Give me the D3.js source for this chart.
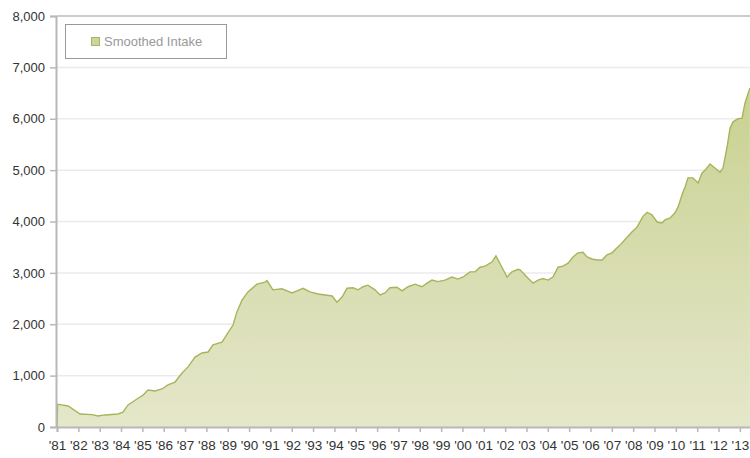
<!DOCTYPE html>
<html><head><meta charset="utf-8">
<script src="https://cdn.jsdelivr.net/npm/d3@7/dist/d3.min.js"></script>
<style>body{margin:0;background:#fff}svg{display:block}text{font-family:"Liberation Sans",Arial,sans-serif}</style>
</head><body><svg id="c" width="750" height="458"></svg>
<script>
const years = [1981.00,1981.03,1981.09,1981.52,1982.08,1982.64,1982.92,1983.25,1983.86,1984.09,1984.33,1984.80,1985.03,1985.26,1985.59,1985.92,1986.20,1986.53,1986.86,1987.14,1987.47,1987.79,1988.08,1988.31,1988.73,1989.01,1989.25,1989.43,1989.67,1989.95,1990.37,1990.75,1990.84,1991.12,1991.54,1991.78,1992.01,1992.25,1992.53,1992.86,1993.23,1993.89,1994.12,1994.36,1994.59,1994.87,1995.11,1995.34,1995.57,1995.90,1996.14,1996.37,1996.60,1996.93,1997.17,1997.45,1997.78,1998.10,1998.34,1998.57,1998.85,1999.18,1999.51,1999.79,2000.03,2000.35,2000.59,2000.82,2001.06,2001.38,2001.57,2001.85,2002.09,2002.32,2002.60,2002.70,2003.02,2003.31,2003.54,2003.77,2004.01,2004.24,2004.48,2004.71,2004.95,2005.18,2005.41,2005.65,2005.84,2006.07,2006.30,2006.54,2006.77,2007.01,2007.15,2007.38,2007.62,2007.95,2008.18,2008.46,2008.65,2008.88,2009.12,2009.35,2009.49,2009.73,2009.96,2010.10,2010.29,2010.43,2010.57,2010.80,2011.04,2011.22,2011.37,2011.60,2011.83,2012.07,2012.21,2012.40,2012.54,2012.68,2012.91,2013.10,2013.24,2013.47];
const intake = [0,440,440,410,253,240,215,235,253,290,430,560,620,720,700,740,820,875,1050,1170,1360,1440,1460,1600,1650,1830,1985,2240,2470,2630,2780,2820,2850,2670,2690,2650,2610,2650,2700,2630,2590,2550,2430,2530,2700,2710,2670,2730,2760,2670,2570,2610,2710,2720,2650,2730,2780,2730,2800,2860,2830,2860,2920,2880,2920,3020,3020,3110,3130,3210,3330,3110,2920,3020,3070,3060,2920,2800,2860,2890,2860,2920,3110,3130,3190,3310,3390,3400,3310,3270,3250,3250,3350,3390,3450,3540,3650,3800,3890,4100,4180,4130,3990,3970,4030,4070,4170,4280,4520,4670,4850,4850,4750,4940,5000,5120,5040,4960,5040,5450,5820,5940,6000,6010,6310,6600];
const yTicks = [0,1000,2000,3000,4000,5000,6000,7000,8000];
const xTickYears = d3.range(1981, 2014);
const xTickLabels = xTickYears.map(y => "'" + String(y % 100).padStart(2, "0"));
const seriesName = "Smoothed Intake";

const svg = d3.select("#c");
const x = d3.scaleLinear().domain([1981, 2014]).range([57, 57 + 33 * 21.34]);
const y = d3.scaleLinear().domain([0, 8000]).range([427, 16]);

const defs = svg.append("defs");
const g = defs.append("linearGradient").attr("id","fillg").attr("x1",0).attr("y1",0).attr("x2",0).attr("y2",1)
  .attr("gradientUnits","userSpaceOnUse").attr("x1",0).attr("y1",y(6600)).attr("x2",0).attr("y2",y(0));
g.append("stop").attr("offset","0").attr("stop-color","#c9d18f");
g.append("stop").attr("offset","0.45").attr("stop-color","#d6dbac");
g.append("stop").attr("offset","1").attr("stop-color","#e5e7ca");

// gridlines
svg.append("g").selectAll("line").data(yTicks.filter(d => d > 0 && d < 8000)).join("line")
  .attr("x1", 57).attr("x2", 750).attr("y1", d => y(d)).attr("y2", d => y(d))
  .attr("stroke", "#ebebeb").attr("stroke-width", 1.5);
// top border
svg.append("line").attr("x1",57).attr("x2",750).attr("y1",y(8000)).attr("y2",y(8000))
  .attr("stroke","#cccccc").attr("stroke-width",2);

const data = years.map((t,i) => ({t, v: intake[i]}));
const area = d3.area().x(d => x(d.t)).y0(y(0)).y1(d => y(d.v));
const line = d3.line().x(d => x(d.t)).y(d => y(d.v));
svg.append("path").datum(data).attr("d", area).attr("fill", "url(#fillg)");
svg.append("path").datum(data).attr("d", line).attr("fill","none").attr("stroke","#a8b45c").attr("stroke-width",1.4);

// y axis
const ya = svg.append("g").attr("transform","translate(56,0)")
  .call(d3.axisLeft(y).tickValues(yTicks).tickSize(6).tickPadding(5).tickFormat(d3.format(",")));
ya.select(".domain").attr("stroke","#b8b8b8").attr("stroke-width",2);
ya.selectAll(".tick line").attr("stroke","#b8b8b8").attr("stroke-width",1.5);
ya.selectAll("text").attr("fill","#333").attr("font-size","13px");

// x axis
const xa = svg.append("g").attr("transform","translate(0,427)")
  .call(d3.axisBottom(x).tickValues(xTickYears).tickSize(5).tickPadding(8).tickFormat((d,i) => xTickLabels[i]));
xa.select(".domain").attr("stroke","#b8b8b8").attr("stroke-width",2);
xa.selectAll(".tick line").attr("stroke","#b8b8b8").attr("stroke-width",1.5);
xa.selectAll("text").attr("fill","#333").attr("font-size","13.5px");

// legend
const lg = svg.append("g");
lg.append("rect").attr("x",65.5).attr("y",24.5).attr("width",161).attr("height",34)
  .attr("fill","#fff").attr("stroke","#999").attr("stroke-width",1);
lg.append("rect").attr("x",91.5).attr("y",37.5).attr("width",8).attr("height",8)
  .attr("fill","#cdd49c").attr("stroke","#a8b46a");
lg.append("text").attr("x",104).attr("y",46).attr("font-size","13px").attr("fill","#999").text(seriesName);
</script></body></html>
